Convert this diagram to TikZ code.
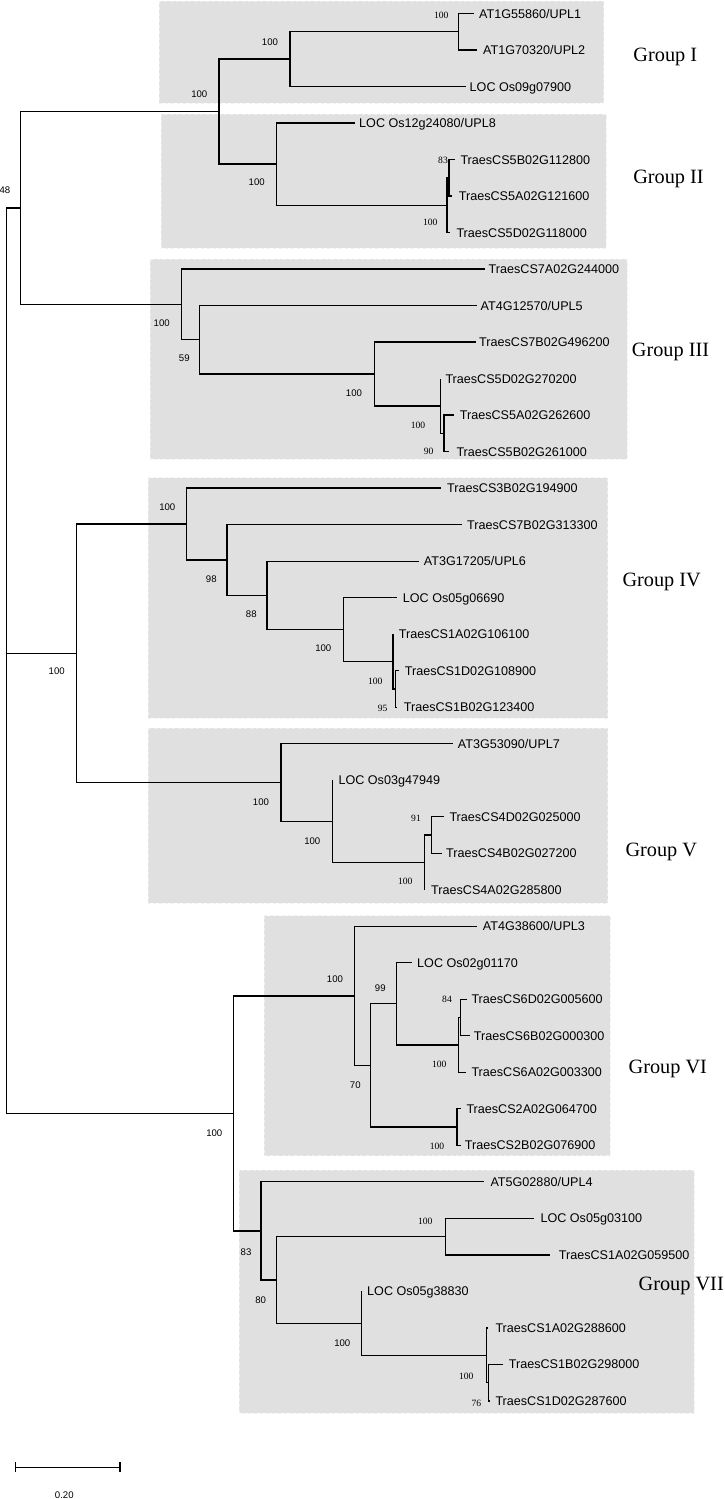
\documentclass[tikz,border=0pt]{standalone}
\usepackage{fontspec}
\setmainfont{Liberation Sans}
\newfontfamily\serfont{Liberation Serif}
\newfontfamily\bsfont{Liberation Sans}
\definecolor{boxgray}{RGB}{224,224,224}
\definecolor{boxedge}{RGB}{240,240,240}
\newcommand\Ly[1]{13.5+36.51*(#1)}
\begin{document}
\begin{tikzpicture}[x=1pt,y=-1pt,
  branch/.style={line width=1.3pt},
  grpbox/.style={fill=boxgray,draw=boxedge,dashed,line width=0.8pt},
  leaf/.style={anchor=west,inner sep=0pt,font=\fontsize{12.6}{14}\selectfont,text height=9pt,text depth=0pt},
  bs/.style={inner sep=0pt,font=\bsfont\fontsize{9.6}{10}\selectfont,text height=6.9pt,text depth=0pt},
  bt/.style={inner sep=0pt,font=\serfont\fontsize{9.6}{10}\selectfont,text height=6.5pt,text depth=0pt},
  grp/.style={inner sep=0pt,font=\serfont\fontsize{20.3}{24}\selectfont,text height=13.4pt,text depth=0pt}]
\useasboundingbox (0,0) rectangle (724,1499);
% group boxes
\path[grpbox] (159.3,1) rectangle (603.7,103.3);
\path[grpbox] (161,114.3) rectangle (606,248.3);
\path[grpbox] (150,259.3) rectangle (627,459.3);
\path[grpbox] (148.3,477.7) rectangle (607.7,718.3);
\path[grpbox] (148.3,728.3) rectangle (607.7,903.3);
\path[grpbox] (264,915.7) rectangle (610.3,1155.7);
\path[grpbox] (239,1170) rectangle (694.3,1413.3);
% internal nodes
\coordinate (u12) at (458.7,{\Ly{0.5}});
\coordinate (g1) at (290,{\Ly{1.25}});
\coordinate (t5b5a) at (449,{\Ly{4.5}});
\coordinate (g2t) at (447,{\Ly{5.25}});
\coordinate (g2) at (276.3,{\Ly{4.125}});
\coordinate (g12) at (219,{\Ly{2.6875}});
\coordinate (c3a) at (444,{\Ly{11.5}});
\coordinate (c3b) at (440.3,{\Ly{10.75}});
\coordinate (c3c) at (374.3,{\Ly{9.875}});
\coordinate (c3d) at (199.7,{\Ly{8.9375}});
\coordinate (g3) at (181.7,{\Ly{7.96875}});
\coordinate (nA) at (20.7,{\Ly{5.328125}});
\coordinate (c4a) at (395.3,{\Ly{18.5}});
\coordinate (c4b) at (393,{\Ly{17.75}});
\coordinate (c4c) at (343.3,{\Ly{16.875}});
\coordinate (c4d) at (267,{\Ly{15.9375}});
\coordinate (c4e) at (227,{\Ly{14.96875}});
\coordinate (g4) at (186.7,{\Ly{13.984375}});
\coordinate (c5a) at (431.3,{\Ly{22.5}});
\coordinate (c5b) at (424.7,{\Ly{23.25}});
\coordinate (c5c) at (332.3,{\Ly{22.125}});
\coordinate (g5) at (281,{\Ly{21.0625}});
\coordinate (nB) at (76.3,{\Ly{17.5234375}});
\coordinate (n48) at (6.7,{\Ly{11.42578}});
\coordinate (c6a) at (460.5,{\Ly{27.5}});
\coordinate (c6b) at (458.7,{\Ly{28.25}});
\coordinate (c6c) at (396.3,{\Ly{27.125}});
\coordinate (c6d) at (457,{\Ly{30.5}});
\coordinate (c6e) at (370.3,{\Ly{28.8125}});
\coordinate (g6) at (354.5,{\Ly{26.90625}});
\coordinate (c7a) at (488.7,{\Ly{37.5}});
\coordinate (c7b) at (486.3,{\Ly{36.75}});
\coordinate (c7c) at (361.7,{\Ly{35.875}});
\coordinate (c7d) at (445.3,{\Ly{33.5}});
\coordinate (c7e) at (276.3,{\Ly{34.6875}});
\coordinate (g7) at (261,{\Ly{33.34375}});
\coordinate (nC) at (233.7,{\Ly{30.125}});
\coordinate (root) at (6.7,{\Ly{20.7754}});
% leaf tips
\coordinate (t0) at (473.7,{\Ly{0}});
\coordinate (t1) at (477,{\Ly{1}});
\coordinate (t2) at (466,{\Ly{2}});
\coordinate (t3) at (355,{\Ly{3}});
\coordinate (t4) at (455.3,{\Ly{4}});
\coordinate (t5) at (452,{\Ly{5}});
\coordinate (t6) at (449.5,{\Ly{6}});
\coordinate (t7) at (485.3,{\Ly{7}});
\coordinate (t8) at (477,{\Ly{8}});
\coordinate (t9) at (476,{\Ly{9}});
\coordinate (t10) at (440.3,{\Ly{10}});
\coordinate (t11) at (453.7,{\Ly{11}});
\coordinate (t12) at (449.3,{\Ly{12}});
\coordinate (t13) at (441,{\Ly{13}});
\coordinate (t14) at (462,{\Ly{14}});
\coordinate (t15) at (418.7,{\Ly{15}});
\coordinate (t16) at (397,{\Ly{16}});
\coordinate (t17) at (393,{\Ly{17}});
\coordinate (t18) at (398.5,{\Ly{18}});
\coordinate (t19) at (396.5,{\Ly{19}});
\coordinate (t20) at (453,{\Ly{20}});
\coordinate (t21) at (332.3,{\Ly{21}});
\coordinate (t22) at (443.7,{\Ly{22}});
\coordinate (t23) at (442,{\Ly{23}});
\coordinate (t24) at (424.7,{\Ly{24}});
\coordinate (t25) at (477,{\Ly{25}});
\coordinate (t26) at (412,{\Ly{26}});
\coordinate (t27) at (467,{\Ly{27}});
\coordinate (t28) at (470,{\Ly{28}});
\coordinate (t29) at (466,{\Ly{29}});
\coordinate (t30) at (461.3,{\Ly{30}});
\coordinate (t31) at (461,{\Ly{31}});
\coordinate (t32) at (483.7,{\Ly{32}});
\coordinate (t33) at (533.7,{\Ly{33}});
\coordinate (t34) at (550.3,{\Ly{34}});
\coordinate (t35) at (361.7,{\Ly{35}});
\coordinate (t36) at (488,{\Ly{36}});
\coordinate (t37) at (502.7,{\Ly{37}});
\coordinate (t38) at (489,{\Ly{38}});
% branches
\draw[branch] (u12) |- (t0) (u12) |- (t1);
\draw[branch] (g1) |- (u12) (g1) |- (t2);
\draw[branch] (t5b5a) |- (t4) (t5b5a) |- (t5);
\draw[branch] (g2t) |- (t5b5a) (g2t) |- (t6);
\draw[branch] (g2) |- (t3) (g2) |- (g2t);
\draw[branch] (g12) |- (g1) (g12) |- (g2);
\draw[branch] (c3a) |- (t11) (c3a) |- (t12);
\draw[branch] (c3b) |- (t10) (c3b) |- (c3a);
\draw[branch] (c3c) |- (t9) (c3c) |- (c3b);
\draw[branch] (c3d) |- (t8) (c3d) |- (c3c);
\draw[branch] (g3) |- (t7) (g3) |- (c3d);
\draw[branch] (nA) |- (g12) (nA) |- (g3);
\draw[branch] (c4a) |- (t18) (c4a) |- (t19);
\draw[branch] (c4b) |- (t17) (c4b) |- (c4a);
\draw[branch] (c4c) |- (t16) (c4c) |- (c4b);
\draw[branch] (c4d) |- (t15) (c4d) |- (c4c);
\draw[branch] (c4e) |- (t14) (c4e) |- (c4d);
\draw[branch] (g4) |- (t13) (g4) |- (c4e);
\draw[branch] (c5a) |- (t22) (c5a) |- (t23);
\draw[branch] (c5b) |- (c5a) (c5b) |- (t24);
\draw[branch] (c5c) |- (t21) (c5c) |- (c5b);
\draw[branch] (g5) |- (t20) (g5) |- (c5c);
\draw[branch] (nB) |- (g4) (nB) |- (g5);
\draw[branch] (n48) |- (nA) (n48) |- (nB);
\draw[branch] (c6a) |- (t27) (c6a) |- (t28);
\draw[branch] (c6b) |- (c6a) (c6b) |- (t29);
\draw[branch] (c6c) |- (t26) (c6c) |- (c6b);
\draw[branch] (c6d) |- (t30) (c6d) |- (t31);
\draw[branch] (c6e) |- (c6c) (c6e) |- (c6d);
\draw[branch] (g6) |- (t25) (g6) |- (c6e);
\draw[branch] (c7a) |- (t37) (c7a) |- (t38);
\draw[branch] (c7b) |- (t36) (c7b) |- (c7a);
\draw[branch] (c7c) |- (t35) (c7c) |- (c7b);
\draw[branch] (c7d) |- (t33) (c7d) |- (t34);
\draw[branch] (c7e) |- (c7d) (c7e) |- (c7c);
\draw[branch] (g7) |- (t32) (g7) |- (c7e);
\draw[branch] (nC) |- (g6) (nC) |- (g7);
\draw[branch] (root) |- (n48) (root) |- (nC);
% leaf labels
\node[leaf] (l0) at (479,{\Ly{0}}) {AT1G55860/UPL1};
\node[leaf] (l1) at (483,{\Ly{1}}) {AT1G70320/UPL2};
\node[leaf] (l2) at (469.5,{\Ly{2}}) {LOC Os09g07900};
\node[leaf] (l3) at (359,{\Ly{3}}) {LOC Os12g24080/UPL8};
\node[leaf] (l4) at (460.3,{\Ly{4}}) {TraesCS5B02G112800};
\node[leaf] (l5) at (458.7,{\Ly{5}}) {TraesCS5A02G121600};
\node[leaf] (l6) at (456.3,{\Ly{6}}) {TraesCS5D02G118000};
\node[leaf] (l7) at (488.5,{\Ly{7}}) {TraesCS7A02G244000};
\node[leaf] (l8) at (480.5,{\Ly{8}}) {AT4G12570/UPL5};
\node[leaf] (l9) at (479,{\Ly{9}}) {TraesCS7B02G496200};
\node[leaf] (l10) at (445.3,{\Ly{10}}) {TraesCS5D02G270200};
\node[leaf] (l11) at (459.7,{\Ly{11}}) {TraesCS5A02G262600};
\node[leaf] (l12) at (456.3,{\Ly{12}}) {TraesCS5B02G261000};
\node[leaf] (l13) at (447,{\Ly{13}}) {TraesCS3B02G194900};
\node[leaf] (l14) at (467,{\Ly{14}}) {TraesCS7B02G313300};
\node[leaf] (l15) at (423.7,{\Ly{15}}) {AT3G17205/UPL6};
\node[leaf] (l16) at (402.7,{\Ly{16}}) {LOC Os05g06690};
\node[leaf] (l17) at (398.7,{\Ly{17}}) {TraesCS1A02G106100};
\node[leaf] (l18) at (404.7,{\Ly{18}}) {TraesCS1D02G108900};
\node[leaf] (l19) at (403.7,{\Ly{19}}) {TraesCS1B02G123400};
\node[leaf] (l20) at (457.7,{\Ly{20}}) {AT3G53090/UPL7};
\node[leaf] (l21) at (338.3,{\Ly{21}}) {LOC Os03g47949};
\node[leaf] (l22) at (449.3,{\Ly{22}}) {TraesCS4D02G025000};
\node[leaf] (l23) at (446,{\Ly{23}}) {TraesCS4B02G027200};
\node[leaf] (l24) at (431,{\Ly{24}}) {TraesCS4A02G285800};
\node[leaf] (l25) at (482.7,{\Ly{25}}) {AT4G38600/UPL3};
\node[leaf] (l26) at (417,{\Ly{26}}) {LOC Os02g01170};
\node[leaf] (l27) at (471.3,{\Ly{27}}) {TraesCS6D02G005600};
\node[leaf] (l28) at (473.7,{\Ly{28}}) {TraesCS6B02G000300};
\node[leaf] (l29) at (471.3,{\Ly{29}}) {TraesCS6A02G003300};
\node[leaf] (l30) at (466.3,{\Ly{30}}) {TraesCS2A02G064700};
\node[leaf] (l31) at (464.7,{\Ly{31}}) {TraesCS2B02G076900};
\node[leaf] (l32) at (490.3,{\Ly{32}}) {AT5G02880/UPL4};
\node[leaf] (l33) at (540.3,{\Ly{33}}) {LOC Os05g03100};
\node[leaf] (l34) at (558.7,{\Ly{34}}) {TraesCS1A02G059500};
\node[leaf] (l35) at (367,{\Ly{35}}) {LOC Os05g38830};
\node[leaf] (l36) at (495.3,{\Ly{36}}) {TraesCS1A02G288600};
\node[leaf] (l37) at (508.7,{\Ly{37}}) {TraesCS1B02G298000};
\node[leaf] (l38) at (495.3,{\Ly{38}}) {TraesCS1D02G287600};
% bootstrap values (sans)
\node[bs] (b1) at (270,41.7) {100};
\node[bs] (b2) at (199.3,94.3) {100};
\node[bs] (b3) at (256.7,182) {100};
\node[bs,anchor=east] (b4) at (10.5,190) {48};
\node[bs] (b5) at (161.7,322.7) {100};
\node[bs] (b6) at (184.3,358.3) {59};
\node[bs] (b7) at (354,392.7) {100};
\node[bs] (b8) at (167.3,506.7) {100};
\node[bs] (b9) at (211.3,578.7) {98};
\node[bs] (b10) at (251.3,614.3) {88};
\node[bs] (b11) at (323.3,648.3) {100};
\node[bs] (b12) at (56.7,671.3) {100};
\node[bs] (b13) at (261,801.7) {100};
\node[bs] (b14) at (312.3,840.7) {100};
\node[bs] (b15) at (335,979.3) {100};
\node[bs] (b16) at (380.3,988.3) {99};
\node[bs] (b17) at (355.3,1085) {70};
\node[bs] (b18) at (214.3,1133.3) {100};
\node[bs] (b19) at (246,1251.7) {83};
\node[bs] (b20) at (260.7,1300) {80};
\node[bs] (b21) at (342.3,1343.3) {100};
% bootstrap values (serif)
\node[bt] (s1) at (441.3,15) {100};
\node[bt] (s2) at (443,160.7) {83};
\node[bt] (s3) at (430.3,222.7) {100};
\node[bt] (s4) at (418,425) {100};
\node[bt] (s5) at (428.7,451.7) {90};
\node[bt] (s6) at (375.3,681.7) {100};
\node[bt] (s7) at (382.7,708.3) {95};
\node[bt] (s8) at (416,818.3) {91};
\node[bt] (s9) at (405.3,881.7) {100};
\node[bt] (s10) at (447,999.5) {84};
\node[bt] (s11) at (439.3,1064.3) {100};
\node[bt] (s12) at (437,1146.7) {100};
\node[bt] (s13) at (425.3,1221) {100};
\node[bt] (s14) at (466.3,1376) {100};
\node[bt] (s15) at (476.3,1403.3) {76};
% group labels
\node[grp] (G1) at (665.3,54.3) {Group I};
\node[grp] (G2) at (668.5,176.7) {Group II};
\node[grp] (G3) at (670.5,350) {Group III};
\node[grp] (G4) at (661.7,580) {Group IV};
\node[grp] (G5) at (661.3,849.3) {Group V};
\node[grp] (G6) at (667.8,1066.7) {Group VI};
\node[grp] (G7) at (681.2,1283.3) {Group VII};
% scale bar
\coordinate (sb1) at (15.7,1467.3);
\coordinate (sb2) at (120,1467.3);
\draw[branch] (sb1) -- (sb2);
\draw[branch] ([yshift=5pt]sb1) -- ([yshift=-5pt]sb1);
\draw[branch] ([yshift=5pt]sb2) -- ([yshift=-5pt]sb2);
\node[bs] (sbl) at (64.3,1495) {0.20};
\end{tikzpicture}
\end{document}
